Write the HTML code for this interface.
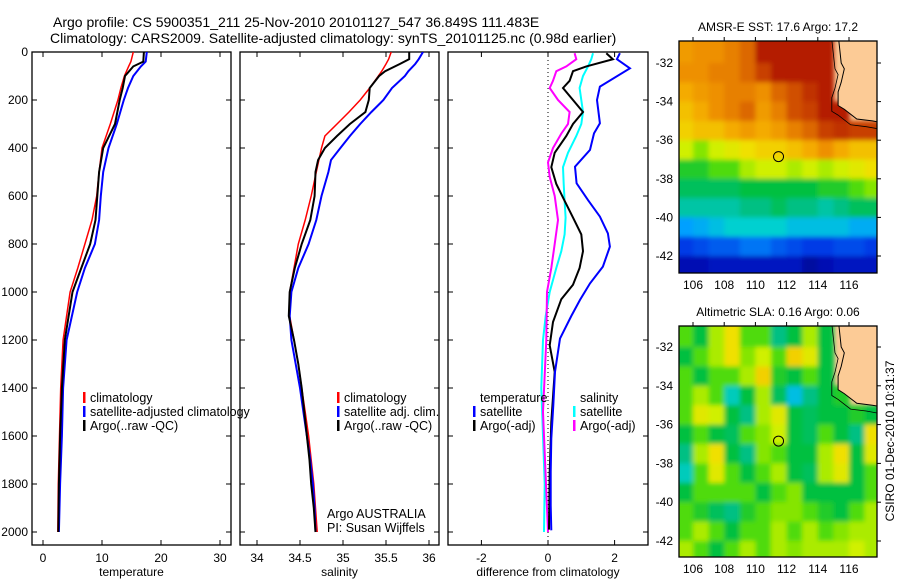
<!DOCTYPE html>
<html><head><meta charset="utf-8">
<style>
body{margin:0;background:#fff;}
svg{display:block;font-family:"Liberation Sans",sans-serif;}
</style></head>
<body>
<svg id="c" width="900" height="580" viewBox="0 0 900 580" xmlns="http://www.w3.org/2000/svg">
<defs>
<clipPath id="cp1"><rect x="32" y="52" width="199" height="493"/></clipPath>
<clipPath id="cp2"><rect x="240" y="52" width="199" height="493"/></clipPath>
<clipPath id="cp3"><rect x="448" y="52" width="200" height="493"/></clipPath>
<clipPath id="cm1"><rect x="679" y="41" width="198" height="232"/></clipPath>
<clipPath id="cm2"><rect x="679" y="326" width="198" height="231"/></clipPath>
<filter id="blur" x="-10%" y="-10%" width="120%" height="120%"><feGaussianBlur stdDeviation="2.5"/></filter>
</defs>
<text x="53" y="27" font-size="14">Argo profile: CS 5900351_211 25-Nov-2010 20101127_547 36.849S 111.483E</text>
<text x="50" y="43" font-size="14">Climatology: CARS2009. Satellite-adjusted climatology: synTS_20101125.nc (0.98d earlier)</text>
<g id="g"></g>
</svg>
<script>
// ---------- profile data ----------
const tDepth=[0,40,60,100,150,200,300,400,500,600,700,800,900,1000,1200,1400,1600,1800,2000];
const tClim=[15.3,14.9,14.5,13.8,13.2,12.7,11.4,10.0,9.5,9.1,8.3,7.1,5.9,4.6,3.4,3.0,2.8,2.6,2.5];
const tSat=[17.6,17.4,16.6,15.3,14.4,13.7,12.5,11.1,10.2,9.8,9.5,8.8,7.1,5.8,4.0,3.4,3.2,2.9,2.7];
const tArgo=[17.1,17.0,15.3,13.9,13.5,13.0,12.2,10.2,9.5,9.2,8.9,8.0,6.5,5.0,3.7,3.2,2.9,2.7,2.6];
const sDepth=[0,30,50,80,100,150,200,250,300,350,400,450,500,600,700,800,900,1000,1100,1200,1300,1400,1500,1600,1700,1800,1900,2000];
const sClim=[35.56,35.53,35.5,35.45,35.41,35.31,35.2,35.07,34.93,34.79,34.75,34.72,34.69,34.63,34.56,34.48,34.43,34.38,34.38,34.43,34.48,34.52,34.56,34.6,34.63,34.66,34.68,34.70];
const sSat=[35.93,35.88,35.84,35.76,35.72,35.57,35.47,35.33,35.2,35.08,34.97,34.86,34.83,34.75,34.69,34.6,34.48,34.4,34.38,34.4,34.45,34.5,34.54,34.58,34.62,34.65,34.67,34.68];
const sArgo=[35.77,35.77,35.66,35.49,35.42,35.31,35.3,35.26,35.08,34.93,34.79,34.71,34.68,34.67,34.62,34.52,34.44,34.38,34.37,34.43,34.48,34.52,34.55,34.58,34.61,34.63,34.66,34.68];
const dTDepth=[5,30,68,144,200,297,339,408,478,547,617,686,756,811,894,964,1033,1100,1194,1333,1472,1611,1750,1889,1993];
const dTSat=[2.16,2.07,2.46,1.56,1.47,1.56,1.38,1.26,0.81,0.86,1.2,1.56,1.8,1.86,1.65,1.26,0.96,0.7,0.36,0.21,0.16,0.1,0.08,0.08,0.1];
const dTArgoDepth=[5,30,60,80,120,150,200,250,300,350,420,480,550,620,690,760,830,900,970,1030,1125,1222,1333,1542,1750,1990];
const dTArgo=[1.75,1.95,1.15,0.75,0.65,0.45,0.75,1.05,0.75,0.55,0.2,0.1,0.25,0.5,0.75,1.0,1.05,0.95,0.75,0.4,0.15,0.05,0.2,0.1,0.05,0.03];
const dSDepth=[5,30,60,100,150,200,250,300,350,420,480,550,620,690,760,830,900,1000,1100,1200,1400,1600,1800,2000];
const dSSat=[1.35,1.3,1.2,1.05,0.95,1.0,1.05,1.0,0.85,0.6,0.45,0.47,0.5,0.53,0.5,0.4,0.25,0.05,-0.07,-0.15,-0.2,-0.15,-0.1,-0.12];
const dSArgoDepth=[5,30,60,80,120,150,200,250,300,340,400,460,520,600,700,800,900,1000,1200,1500,1700,2000];
const dSArgo=[0.8,0.85,0.55,0.25,0.15,0.05,0.3,0.65,0.6,0.4,0.15,0.0,0.05,0.2,0.3,0.2,0.1,-0.03,-0.05,-0.15,-0.09,0.0];
const depthTicks=[0,200,400,600,800,1000,1200,1400,1600,1800,2000];
const tTicks=[0,10,20,30];
const sTicks=[34,34.5,35,35.5,36];
const dTicks=[-2,0,2];
// ---------- map data (1-degree cells, lon 105..117, rows lat -31..-43), -1 = land ----------
const mapLons=[105,106,107,108,109,110,111,112,113,114,115,116,117];
const mapLats=[-31,-32,-33,-34,-35,-36,-37,-38,-39,-40,-41,-42];
const sst=[
[0.78,0.8,0.8,0.82,0.85,0.95,0.95,0.95,0.95,0.95,-1,-1,-1],
[0.8,0.8,0.82,0.82,0.85,0.9,0.95,0.95,0.95,0.95,-1,-1,-1],
[0.75,0.78,0.8,0.82,0.82,0.8,0.85,0.88,0.92,0.95,-1,-1,-1],
[0.72,0.75,0.8,0.82,0.85,0.78,0.82,0.88,0.9,0.95,0.95,-1,-1],
[0.7,0.72,0.72,0.75,0.78,0.75,0.78,0.82,0.85,0.9,0.92,0.9,0.9],
[0.62,0.58,0.62,0.65,0.68,0.7,0.7,0.72,0.75,0.8,0.75,0.72,0.72],
[0.52,0.52,0.55,0.55,0.6,0.62,0.62,0.6,0.62,0.6,0.62,0.65,0.68],
[0.48,0.48,0.48,0.48,0.5,0.5,0.5,0.5,0.5,0.52,0.52,0.55,0.58],
[0.42,0.42,0.42,0.42,0.45,0.45,0.48,0.45,0.45,0.42,0.45,0.48,0.48],
[0.3,0.32,0.35,0.38,0.38,0.38,0.38,0.35,0.35,0.35,0.35,0.32,0.32],
[0.18,0.2,0.22,0.22,0.25,0.25,0.22,0.2,0.18,0.18,0.2,0.2,0.18],
[0.08,0.08,0.1,0.1,0.1,0.1,0.1,0.1,0.05,0.08,0.1,0.1,0.1]];
const sla=[
[0.55,0.5,0.6,0.68,0.55,0.55,0.45,0.5,0.6,0.5,-1,-1,-1],
[0.5,0.55,0.6,0.68,0.58,0.62,0.55,0.7,0.65,0.5,-1,-1,-1],
[0.55,0.5,0.55,0.55,0.6,0.7,0.52,0.5,0.55,0.5,-1,-1,-1],
[0.55,0.6,0.55,0.4,0.5,0.6,0.48,0.35,0.45,0.5,0.52,-1,-1],
[0.55,0.65,0.62,0.5,0.45,0.6,0.65,0.5,0.48,0.5,0.5,0.52,0.5],
[0.5,0.55,0.5,0.48,0.55,0.58,0.62,0.5,0.48,0.55,0.5,0.45,0.68],
[0.45,0.6,0.68,0.5,0.45,0.58,0.55,0.5,0.5,0.6,0.68,0.5,0.65],
[0.4,0.55,0.65,0.55,0.5,0.55,0.6,0.5,0.48,0.6,0.65,0.5,0.55],
[0.5,0.55,0.55,0.55,0.55,0.5,0.55,0.58,0.5,0.5,0.5,0.5,0.55],
[0.55,0.52,0.48,0.45,0.52,0.55,0.58,0.58,0.55,0.52,0.5,0.55,0.6],
[0.55,0.6,0.55,0.5,0.55,0.55,0.6,0.55,0.6,0.55,0.58,0.6,0.6],
[0.6,0.55,0.5,0.55,0.6,0.55,0.6,0.58,0.6,0.6,0.6,0.62,0.6]];
const coastLon=[115.3,115.5,115.7,115.5,115.3,115.3,115.7,116.5,117.5,118.2];
const coastLat=[-30.5,-32,-32.3,-33,-33.5,-34.2,-34.4,-34.9,-35.0,-35.1];
const argoLon=111.483, argoLat=-36.849;
const mapLonTicks=[106,108,110,112,114,116];
const mapLatTicks=[-32,-34,-36,-38,-40,-42];

const NS="http://www.w3.org/2000/svg";
const G=document.getElementById('g');
function mk(tag,attrs,parent){const e=document.createElementNS(NS,tag);for(const k in attrs)e.setAttribute(k,attrs[k]);(parent||G).appendChild(e);return e;}
const yD=d=>52+0.24*d;
const xT=v=>43+5.9*v;
const xS=v=>257+86*(v-34);
const xDf=v=>548+33.3*v;

function panel(x0,w,name,ticks,xf,labels,title,clip){
  const grp=mk('g',{});
  
  
  const r=mk('rect',{x:x0,y:52,width:w,height:493,fill:'none',stroke:'#000','stroke-width':1.3},grp);
  
  
  ticks.forEach((t,i)=>{const x=xf(t);
    mk('line',{x1:x,x2:x,y1:52,y2:57,stroke:'#000'},grp);
    mk('line',{x1:x,x2:x,y1:545,y2:540,stroke:'#000'},grp);
    const tx=mk('text',{x:x,y:562,'font-size':12,'text-anchor':'middle'},grp);tx.textContent=labels[i];
    
    
  });
  depthTicks.forEach(d=>{const y=yD(d);
    mk('line',{x1:x0,x2:x0+5,y1:y,y2:y,stroke:'#000'},grp);
    mk('line',{x1:x0+w,x2:x0+w-5,y1:y,y2:y,stroke:'#000'},grp);});
  const tt=mk('text',{x:x0+w/2,y:576,'font-size':12,'text-anchor':'middle'},grp);tt.textContent=title;
  
  
  return mk('g',{'clip-path':'url(#'+clip+')'},grp);
}
function line(parent,ds,vs,xf,col,w,name){
  const pts=ds.map((d,i)=>xf(vs[i]).toFixed(1)+','+yD(d).toFixed(1)).join(' ');
  const p=mk('polyline',{points:pts,fill:'none',stroke:col,'stroke-width':w},parent);
  
  
}
depthTicks.forEach(d=>{const t=mk('text',{x:28,y:yD(d)+4,'font-size':12,'text-anchor':'end'});t.textContent=d;
  
  });

const p1=panel(32,199,'temperature-panel',tTicks,xT,tTicks.map(String),'temperature','cp1');
line(p1,tDepth,tClim,xT,'#f00',1.5,'temp-climatology-line');
line(p1,tDepth,tSat,xT,'#00f',2,'temp-satellite-line');
line(p1,tDepth,tArgo,xT,'#000',2,'temp-argo-line');
const p2=panel(240,199,'salinity-panel',sTicks,xS,sTicks.map(String),'salinity','cp2');
line(p2,sDepth,sClim,xS,'#f00',1.5,'sal-climatology-line');
line(p2,sDepth,sSat,xS,'#00f',2,'sal-satellite-line');
line(p2,sDepth,sArgo,xS,'#000',2,'sal-argo-line');
const p3=panel(448,200,'difference-panel',dTicks,xDf,dTicks.map(String),'difference from climatology','cp3');
mk('line',{x1:548,x2:548,y1:52,y2:545,stroke:'#000','stroke-dasharray':'1,3'},p3);
line(p3,dSDepth,dSSat,xDf,'#0ff',2,'diff-sal-satellite-line');
line(p3,dSArgoDepth,dSArgo,xDf,'#f0f',2,'diff-sal-argo-line');
line(p3,dTArgoDepth,dTArgo,xDf,'#000',2,'diff-temp-argo-line');
line(p3,dTDepth,dTSat,xDf,'#00f',2,'diff-temp-satellite-line');

function legend(x,y,items,name){
  items.forEach((it,i)=>{const yy=y+i*14;
    if(it[0]){const m=mk('rect',{x:x,y:yy-10,width:2.5,height:11,fill:it[0]});
      
      }
    const t=mk('text',{x:x+7,y:yy,'font-size':12.5});t.textContent=it[1];
    
    });
}
legend(83,402,[['#f00','climatology'],['#00f','satellite-adjusted climatology'],['#000','Argo(..raw -QC)']],'temp-legend');
legend(337,402,[['#f00','climatology'],['#00f','satellite adj. clim.'],['#000','Argo(..raw -QC)']],'sal-legend');
legend(473,402,[[null,'temperature'],['#00f','satellite'],['#000','Argo(-adj)']],'diff-temp-legend');
legend(573,402,[[null,'salinity'],['#0ff','satellite'],['#f0f','Argo(-adj)']],'diff-sal-legend');
[['Argo AUSTRALIA',518],['PI: Susan Wijffels',532]].forEach(a=>{const t=mk('text',{x:327,y:a[1],'font-size':12.5});t.textContent=a[0];
  
  });

// ---------- maps ----------
const stops=[[0,[0,0,128]],[0.15,[0,32,224]],[0.3,[0,160,255]],[0.38,[0,208,208]],[0.44,[0,192,144]],[0.5,[0,192,64]],[0.56,[96,224,0]],[0.62,[208,240,0]],[0.68,[240,224,0]],[0.74,[245,176,0]],[0.8,[238,144,0]],[0.86,[216,96,0]],[0.92,[192,48,0]],[1,[160,0,0]]];
function cmap(v){for(let i=1;i<stops.length;i++){if(v<=stops[i][0]){const a=stops[i-1],b=stops[i],f=(v-a[0])/(b[0]-a[0]);
  return 'rgb('+a[1].map((c,k)=>Math.round(c+f*(b[1][k]-c))).join(',')+')';}}return 'rgb(160,0,0)';}
const mx=lon=>693+(lon-106)*15.6;
function drawMap(vals,my,y0,h,clip,name,title,ty){
  const grp=mk('g',{});
  
  
  const cg=mk('g',{'clip-path':'url(#'+clip+')'},grp);
  mk('rect',{x:679,y:y0,width:198,height:h,fill:'#fccb96'},cg);
  const bg=mk('g',{filter:'url(#blur)'},cg);
  vals.forEach((row,i)=>row.forEach((v,j)=>{
    if(v<0)return;
    const top=i===0?mapLats[i]+1.5:mapLats[i];
    const bot=i===vals.length-1?mapLats[i]-2:mapLats[i]-1;
    const left=j===0?mapLons[j]-1:mapLons[j];
    const x=mx(left),y=my(top);
    const c=mk('rect',{x:x.toFixed(1),y:y.toFixed(1),width:(mx(mapLons[j]+1)-x+0.6).toFixed(1),height:(my(bot)-y+0.6).toFixed(1),fill:cmap(v)},bg);
    
    
  }));
  const cp=coastLon.map((l,i)=>mx(l).toFixed(1)+','+my(coastLat[i]).toFixed(1)).join(' ');
  const land=mk('polygon',{points:cp+' '+mx(119)+','+my(-35.1)+' '+mx(119)+','+my(-30)+' '+mx(115.3)+','+my(-30),fill:'#fccb96'},cg);
  
  
  const cl=mk('polyline',{points:cp,fill:'none',stroke:'#000','stroke-width':1},cg);
  
  
  const cp2=coastLon.map((l,i)=>mx(l-0.4).toFixed(1)+','+my(coastLat[i]-0.3).toFixed(1)).join(' ');
  mk('polyline',{points:cp2,fill:'none',stroke:'#000','stroke-width':0.8},cg);
  const mk1=mk('circle',{cx:mx(argoLon),cy:my(argoLat),r:5,fill:'none',stroke:'#000'},grp);
  
  
  mk('rect',{x:679,y:y0,width:198,height:h,fill:'none',stroke:'#000','stroke-width':1.3},grp);
  mapLonTicks.forEach(l=>{const x=mx(l);
    mk('line',{x1:x,x2:x,y1:y0,y2:y0-4,stroke:'#000'},grp);
    const t=mk('text',{x:x,y:y0+h+16,'font-size':12,'text-anchor':'middle'},grp);t.textContent=l;
    
    });
  mapLatTicks.forEach(l=>{const y=my(l);
    mk('line',{x1:877,x2:881,y1:y,y2:y,stroke:'#000'},grp);
    const t=mk('text',{x:673,y:y+4,'font-size':12,'text-anchor':'end'},grp);t.textContent=l;
    
    });
  const t=mk('text',{x:778,y:ty,'font-size':12,'text-anchor':'middle'},grp);t.textContent=title;
  
  
}
drawMap(sst,lat=>63+(-32-lat)*19.3,41,232,'cm1','sst-map','AMSR-E SST: 17.6 Argo: 17.2',31);
drawMap(sla,lat=>347+(-32-lat)*19.4,326,231,'cm2','sla-map','Altimetric SLA: 0.16 Argo: 0.06',316);
const ts=mk('text',{x:0,y:0,'font-size':12,'text-anchor':'middle',transform:'translate(894,441) rotate(-90)'});
ts.textContent='CSIRO 01-Dec-2010 10:31:37';


</script>
</body></html>
